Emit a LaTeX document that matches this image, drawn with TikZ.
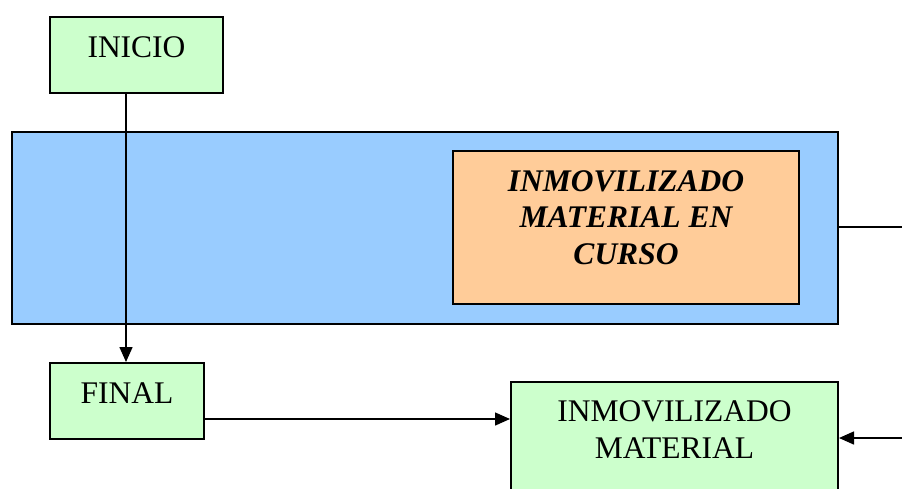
\documentclass[tikz,border=0pt]{standalone}
\usepackage{fontspec}
\setmainfont{Liberation Serif}
\usetikzlibrary{arrows.meta,calc}
\definecolor{boxgreen}{HTML}{CCFFCC}
\definecolor{boxblue}{HTML}{99CCFF}
\definecolor{boxorange}{HTML}{FFCC99}
\tikzset{
  box/.style={draw=black, line width=2pt, inner sep=0pt, anchor=north west},
  lbl/.style={inner sep=0pt, anchor=base, align=center, font=\fontsize{31.5pt}{37pt}\selectfont},
  ilbl/.style={lbl, font=\fontsize{31.5pt}{37pt}\selectfont\bfseries\itshape},
  conn/.style={draw=black, line width=1.5pt},
  arr/.style={conn, -{Triangle[length=15pt,width=13pt]}}
}
\begin{document}
\begin{tikzpicture}[x=1pt,y=-1pt]
\useasboundingbox (0,0) rectangle (902,488);
\clip (0,0) rectangle (902,488);
% boxes
\node[box, fill=boxblue, minimum width=826pt, minimum height=192pt] (zona) at (11,131) {};
\node[box, fill=boxorange, minimum width=346pt, minimum height=153pt] (curso) at (452,150) {};
\node[box, fill=boxgreen, minimum width=173pt, minimum height=76pt] (inicio) at (49,16) {};
\node[box, fill=boxgreen, minimum width=154pt, minimum height=76pt] (final) at (49,362) {};
\node[box, fill=boxgreen, minimum width=327pt, minimum height=130pt] (inmov) at (510,381) {};
% texts
\node[lbl] (inicio-t) at ($(inicio.north)+(0,41)$) {INICIO};
\node[lbl] (final-t) at ($(final.north)+(0,41)$) {FINAL};
\node[ilbl] (curso-t1) at ($(curso.north)+(0,41)$) {INMOVILIZADO};
\node[ilbl] (curso-t2) at ($(curso.north)+(0,77)$) {MATERIAL EN};
\node[ilbl] (curso-t3) at ($(curso.north)+(0,114)$) {CURSO};
\node[lbl] (inmov-t1) at ($(inmov.north)+(0,40)$) {INMOVILIZADO};
\node[lbl] (inmov-t2) at ($(inmov.north)+(0,77)$) {MATERIAL};
% connectors
\coordinate (c1) at ($(inicio.south west)+(77,0)$);
\draw[arr] (c1) -- (c1 |- final.north);
\coordinate (c2) at ($(final.north east)+(0,57)$);
\draw[arr] (c2) -- (c2 -| inmov.west);
\coordinate (out) at (902,227);
\draw[conn] (zona.east |- out) -- (out);
\coordinate (in) at (902,438);
\draw[arr] (in) -- (in -| inmov.east);
\end{tikzpicture}
\end{document}
